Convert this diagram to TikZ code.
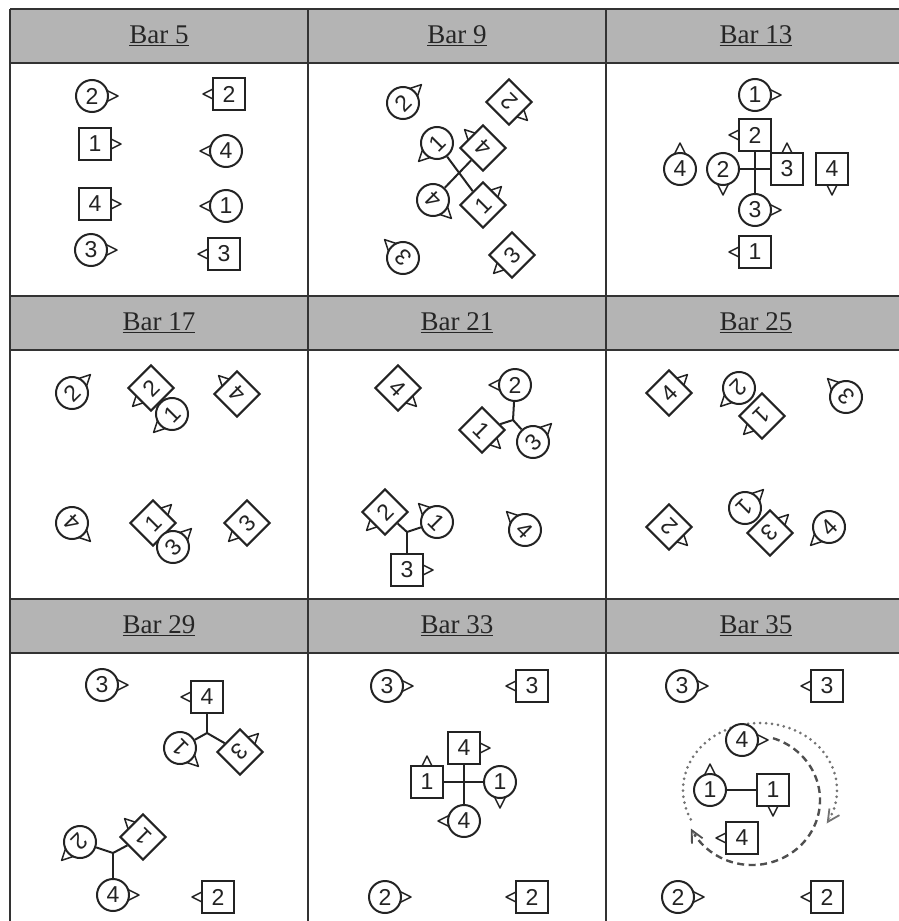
\documentclass[tikz,border=0pt]{standalone}
\usepackage{fontspec}
\setmainfont{Liberation Serif}
\newfontfamily\digitsans{Liberation Sans}
\usepackage{tikz}
\usetikzlibrary{arrows.meta}

\definecolor{headgray}{RGB}{180,180,180}
\definecolor{ink}{RGB}{35,35,35}

\tikzset{
  man/.style={draw=ink, line width=2pt, fill=white, minimum size=32pt, inner sep=0pt,
    text=ink, font=\digitsans\fontsize{23}{23}\selectfont},
  woman/.style={man, circle},
  facing/.style={draw=ink, line width=1.5pt, fill=white, line join=round},
  hold/.style={draw=ink, line width=2pt},
  barlabel/.style={font=\fontsize{27}{30}\selectfont, text=black!85},
  grid line/.style={draw=black!80, line width=1.8pt},
  spiral tip/.style={solid, -{Straight Barb[length=12pt, width=12pt, line width=1.8pt]}},
}

% #1 turn of the body, #2 name, #3 man/woman, #4 place, #5 facing, #6 number
\newcommand{\dancer}[6][0]{%
  \draw[facing, shift={(#4)}, rotate=#5] (14pt,6pt) -- (26pt,0pt) -- (14pt,-6pt) -- cycle;
  \node[#3, rotate=#1] (#2) at (#4) {#6};}

\begin{document}
\begin{tikzpicture}[x=1pt, y=-1pt]
\useasboundingbox (0,0) rectangle (899,921);
\foreach \ry in {9,296,599}
  \fill[headgray] (10,\ry) rectangle (906,\ry+54);
\foreach \ry in {9,63,296,350,599,653}
  \draw[grid line] (10,\ry) -- (906,\ry);
\foreach \cx in {10,308,606,906}
  \draw[grid line] (\cx,9) -- (\cx,925);

\node[barlabel] (bar5) at (159,36) {\underline{Bar 5}};
\node[barlabel] (bar9) at (457,36) {\underline{Bar 9}};
\node[barlabel] (bar13) at (756,36) {\underline{Bar 13}};
\node[barlabel] (bar17) at (159,323) {\underline{Bar 17}};
\node[barlabel] (bar21) at (457,323) {\underline{Bar 21}};
\node[barlabel] (bar25) at (756,323) {\underline{Bar 25}};
\node[barlabel] (bar29) at (159,626) {\underline{Bar 29}};
\node[barlabel] (bar33) at (457,626) {\underline{Bar 33}};
\node[barlabel] (bar35) at (756,626) {\underline{Bar 35}};

% bar 5
\dancer{b5w2}{woman}{92,96}{0}{2}
\dancer{b5m2}{man}{229,94}{180}{2}
\dancer{b5m1}{man}{95,144}{0}{1}
\dancer{b5w4}{woman}{226,151}{180}{4}
\dancer{b5m4}{man}{95,204}{0}{4}
\dancer{b5w1}{woman}{226,206}{180}{1}
\dancer{b5w3}{woman}{91,250}{0}{3}
\dancer{b5m3}{man}{224,254}{180}{3}

% bar 9
\dancer[45]{b9w2}{woman}{403,103}{45}{2}
\dancer[135]{b9m2}{man}{509,102}{-45}{2}
\dancer[45]{b9w1}{woman}{437,143}{-135}{1}
\dancer[135]{b9m4}{man}{483,148}{135}{4}
\dancer[135]{b9w4}{woman}{433,200}{-45}{4}
\dancer[45]{b9m1}{man}{483,205}{45}{1}
\dancer[135]{b9w3}{woman}{403,258}{135}{3}
\dancer[45]{b9m3}{man}{512,255}{-135}{3}
\draw[hold] (b9w1) -- (b9m1);
\draw[hold] (b9w4) -- (b9m4);

% bar 13
\dancer{b13w1}{woman}{755,95}{0}{1}
\dancer{b13m2}{man}{755,135}{180}{2}
\dancer{b13w4}{woman}{680,169}{90}{4}
\dancer{b13w2}{woman}{723,169}{-90}{2}
\dancer{b13m3}{man}{787,169}{90}{3}
\dancer{b13m4}{man}{832,169}{-90}{4}
\dancer{b13w3}{woman}{755,210}{0}{3}
\dancer{b13m1}{man}{755,252}{180}{1}
\draw[hold] (b13m2) -- (b13w3);
\draw[hold] (b13w2) -- (b13m3);

% bar 17
\dancer[45]{b17w2}{woman}{72,393}{45}{2}
\dancer[45]{b17m2}{man}{151,388}{-135}{2}
\dancer[45]{b17w1}{woman}{172,414}{-135}{1}
\dancer[135]{b17m4}{man}{237,394}{135}{4}
\dancer[135]{b17w4}{woman}{72,523}{-45}{4}
\dancer[45]{b17m1}{man}{153,523}{45}{1}
\dancer[45]{b17w3}{woman}{173,547}{45}{3}
\dancer[45]{b17m3}{man}{247,523}{-135}{3}

% bar 21
\dancer[-45]{b21m4}{man}{398,388}{-45}{4}
\dancer{b21w2}{woman}{515,385}{180}{2}
\dancer[-45]{b21m1}{man}{482,430}{-45}{1}
\dancer[45]{b21w3}{woman}{533,442}{45}{3}
\coordinate (b21j1) at (513,420);
\draw[hold] (b21j1) -- (b21w2);
\draw[hold] (b21j1) -- (b21m1);
\draw[hold] (b21j1) -- (b21w3);
\dancer[45]{b21m2}{man}{385,512}{-135}{2}
\dancer[-45]{b21w1}{woman}{437,522}{135}{1}
\dancer{b21m3}{man}{407,570}{0}{3}
\coordinate (b21j2) at (407,532);
\draw[hold] (b21j2) -- (b21m2);
\draw[hold] (b21j2) -- (b21w1);
\draw[hold] (b21j2) -- (b21m3);
\dancer[-45]{b21w4}{woman}{525,530}{135}{4}

% bar 25
\dancer[45]{b25m4}{man}{669,393}{45}{4}
\dancer[-135]{b25w2}{woman}{739,388}{-135}{2}
\dancer[-135]{b25m1}{man}{762,416}{-135}{1}
\dancer[135]{b25w3}{woman}{846,397}{135}{3}
\dancer[135]{b25m2}{man}{669,527}{-45}{2}
\dancer[-135]{b25w1}{woman}{745,508}{45}{1}
\dancer[-135]{b25m3}{man}{770,533}{45}{3}
\dancer[45]{b25w4}{woman}{829,527}{-135}{4}

% bar 29
\dancer{b29w3}{woman}{102,685}{0}{3}
\dancer{b29m4}{man}{207,697}{180}{4}
\dancer[135]{b29w1}{woman}{180,748}{-45}{1}
\dancer[-135]{b29m3}{man}{240,752}{45}{3}
\coordinate (b29j1) at (207,733);
\draw[hold] (b29j1) -- (b29m4);
\draw[hold] (b29j1) -- (b29w1);
\draw[hold] (b29j1) -- (b29m3);
\dancer[-135]{b29w2}{woman}{80,842}{-135}{2}
\dancer[135]{b29m1}{man}{143,837}{135}{1}
\dancer{b29w4}{woman}{113,895}{0}{4}
\coordinate (b29j2) at (113,853);
\draw[hold] (b29j2) -- (b29w2);
\draw[hold] (b29j2) -- (b29m1);
\draw[hold] (b29j2) -- (b29w4);
\dancer{b29m2}{man}{218,897}{180}{2}

% bar 33
\dancer{b33w3}{woman}{387,686}{0}{3}
\dancer{b33m3}{man}{532,686}{180}{3}
\dancer{b33m4}{man}{464,748}{0}{4}
\dancer{b33m1}{man}{427,782}{90}{1}
\dancer{b33w1}{woman}{500,782}{-90}{1}
\dancer{b33w4}{woman}{464,821}{180}{4}
\dancer{b33w2}{woman}{385,897}{0}{2}
\dancer{b33m2}{man}{532,897}{180}{2}
\draw[hold] (b33m4) -- (b33w4);
\draw[hold] (b33m1) -- (b33w1);

% bar 35
\coordinate (loop) at (760,790);
\coordinate (orbit) at (752,800);
\draw[black!55, line width=3pt, line cap=round, dash pattern=on 0pt off 6pt]
  (loop) ++(206:77pt and 67pt) arc[start angle=206, end angle=-26, x radius=77pt, y radius=67pt];
\draw[black!55, spiral tip]
  (loop) ++(-24:77pt and 67pt) arc[start angle=-24, end angle=-30, x radius=77pt, y radius=67pt];
\draw[ink!80, line width=2.4pt, dash pattern=on 7pt off 4.5pt]
  (orbit) ++(72:68pt and 65pt) arc[start angle=72, end angle=-148, x radius=68pt, y radius=65pt];
\draw[ink!80, spiral tip]
  (orbit) ++(-147:68pt and 65pt) arc[start angle=-147, end angle=-154, x radius=68pt, y radius=65pt];
\dancer{b35w3}{woman}{682,686}{0}{3}
\dancer{b35m3}{man}{827,686}{180}{3}
\dancer{b35w4}{woman}{742,740}{0}{4}
\dancer{b35w1}{woman}{710,790}{90}{1}
\dancer{b35m1}{man}{773,790}{-90}{1}
\dancer{b35m4}{man}{742,838}{180}{4}
\dancer{b35w2}{woman}{678,897}{0}{2}
\dancer{b35m2}{man}{827,897}{180}{2}
\draw[hold] (b35w1) -- (b35m1);
\end{tikzpicture}
\end{document}
